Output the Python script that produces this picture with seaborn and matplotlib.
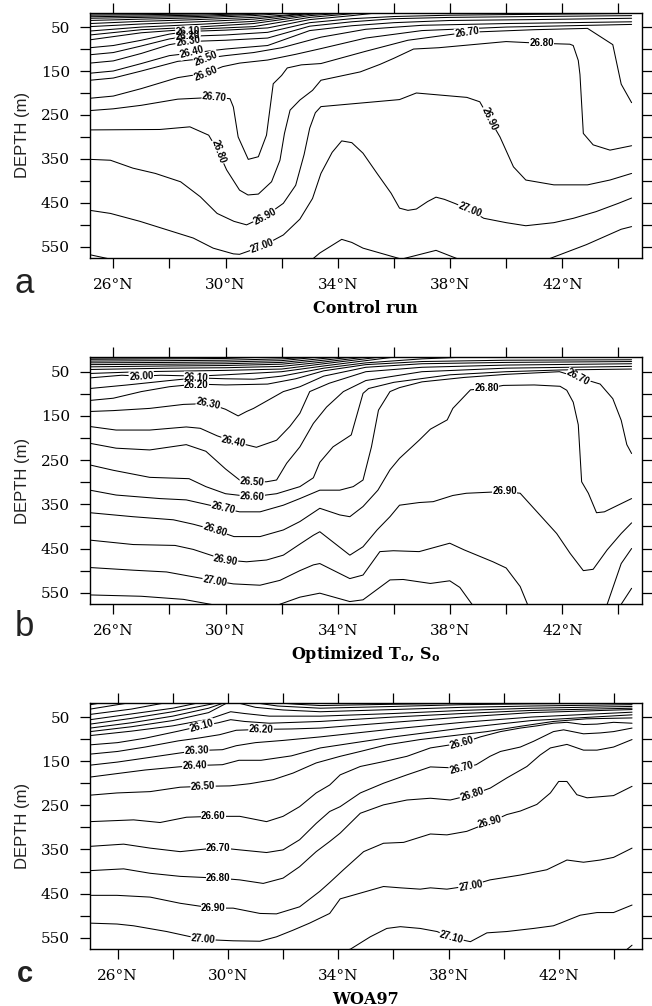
import pandas as pd
import matplotlib
matplotlib.use("Agg")
import matplotlib.pyplot as plt
import seaborn as sns

# Isopycnal depths (lat in deg N, depth in m).
# ---------------- a: Control run ----------------
a_2510 = [(25.17, 20), (27, 19.5), (28.5, 18.8), (29.5, 17)]
a_2520 = [(25.17, 23), (27, 22), (29, 20), (30.5, 17)]
a_2530 = [(25.17, 26.5), (27, 25), (29, 23), (30.5, 20), (31.5, 17)]
a_2540 = [(25.17, 30), (27, 28), (29, 26), (31, 21), (32, 17)]
a_2550 = [(25.17, 35), (27, 32), (29, 29), (31, 24), (32.5, 17)]
a_2560 = [(25.17, 42), (27, 37), (29, 33), (31, 28), (32.5, 21), (33.2, 17)]
a_2570 = [(25.17, 49), (27, 43), (29, 38), (31, 32), (33, 19), (33.5, 17)]
a_2580 = [(25.17, 59), (27, 50), (29, 44), (31, 37), (33, 21), (34, 17)]
a_2590 = [(25.17, 68), (27, 56), (29, 50), (31, 42), (33, 24), (34.5, 17)]
a_2600 = [(25.17, 79), (27, 63), (28.5, 56), (31, 49), (33, 28), (35, 17)]
a_2610 = [(25.17, 97), (26, 92), (27, 80), (28, 66), (28.66, 60), (30, 57), (31.5, 52),
          (33, 33), (34.5, 24), (35.5, 17)]
a_2620 = [(25.17, 113), (26, 108), (27, 93), (28, 77), (28.66, 71), (30, 68), (31.5, 62),
          (33, 40), (34.5, 31), (36, 26), (38, 23), (41, 21), (44.47, 19)]
a_2630 = [(25.17, 132), (26, 127), (27, 110), (28, 90), (28.66, 83), (30, 80), (31.5, 75),
          (33, 48), (34.5, 38), (36, 31), (38, 28), (41, 26), (44.47, 24)]
a_2640 = [(25.17, 155), (26, 150), (27, 133), (28, 115), (28.8, 109), (30, 100), (31.5, 92),
          (33, 58), (34.5, 47), (36, 40), (38, 35), (41, 33), (44.47, 30)]
a_2650 = [(25.17, 171), (26, 166), (27, 150), (28.3, 128), (29.3, 121), (30, 115), (31, 108),
          (32, 97), (33.4, 73), (35, 55), (37, 46), (40, 42), (44.47, 38)]
a_2660 = [(25.17, 212), (26, 207), (27, 190), (28.3, 165), (29.3, 155), (29.9, 140), (30.5, 132),
          (31.5, 125), (32.5, 112), (33.4, 99), (35, 75), (37, 58), (40, 50), (44.47, 44)]
a_2670 = [(25.17, 240), (26, 236), (27, 228), (28.3, 214), (29.6, 210), (30.16, 213), (30.28, 232),
          (30.45, 300), (30.81, 351), (31.17, 345), (31.46, 296), (31.7, 179), (32.0, 160),
          (32.2, 143), (32.7, 136), (33.4, 133), (35, 105), (36.5, 80), (38.6, 62), (41, 56),
          (42.9, 53), (43.8, 90), (44.1, 180), (44.47, 222)]
a_2680 = [(25.17, 284), (27.66, 283), (28.73, 277), (29.4, 296), (29.75, 334), (30.04, 375),
          (30.5, 421), (30.8, 432), (31.17, 430), (31.64, 402), (31.94, 353), (32.1, 292),
          (32.3, 239), (32.65, 216), (33.1, 194), (33.4, 171), (34.8, 152), (35.5, 135),
          (36.0, 121), (36.7, 100), (37.6, 97), (40.0, 83), (41.27, 87), (42.27, 89),
          (42.39, 92), (42.57, 126), (42.63, 158), (42.75, 292), (43.1, 318), (43.7, 330),
          (44.47, 320)]
a_2690 = [(25.17, 351), (25.9, 353), (26.7, 371), (27.5, 383), (28.4, 402), (29.1, 436),
          (29.7, 474), (30.3, 492), (30.75, 500), (31.4, 481), (32.06, 451), (32.5, 410),
          (32.8, 340), (33.0, 280), (33.2, 245), (33.4, 231), (36.2, 215), (36.8, 200),
          (38.6, 210), (39.06, 220), (39.4, 258), (39.78, 300), (40.26, 368), (40.7, 398),
          (41.7, 409), (42.9, 409), (43.7, 398), (44.47, 383)]
a_2700 = [(25.17, 467), (25.9, 474), (26.95, 492), (27.9, 511), (28.85, 530), (29.56, 553),
          (30.28, 566), (30.5, 567), (31.3, 549), (32.06, 523), (32.65, 487), (33.1, 440),
          (33.4, 383), (33.8, 335), (34.14, 309), (34.5, 313), (34.9, 337), (35.4, 383),
          (35.9, 428), (36.2, 462), (36.5, 467), (36.8, 464), (37.2, 447), (37.5, 437),
          (37.8, 442), (38.2, 452), (38.7, 466), (39.2, 485), (40.0, 495), (40.7, 502),
          (41.7, 495), (42.4, 485), (43.2, 470), (44.0, 451), (44.47, 439)]
a_2710 = [(25.17, 568), (25.9, 578), (27, 590), (30, 595), (33.1, 578), (33.36, 564),
          (34.14, 533), (34.5, 540), (34.9, 553), (36.27, 578), (37.5, 558), (38.3, 578),
          (40, 595), (41.5, 578), (42.86, 545), (44.1, 510), (44.47, 504)]

labels_a = [("26.10", 28.66, 59, 3), ("26.20", 28.66, 71, 5), ("26.30", 28.66, 83, 8),
            ("26.40", 28.8, 108, 14), ("26.50", 29.3, 121, 22), ("26.60", 29.3, 156, 22),
            ("26.70", 29.6, 210, -5), ("26.80", 29.75, 334, -70), ("26.90", 31.4, 481, 28),
            ("27.00", 31.3, 549, 20), ("26.70", 38.6, 62, 8), ("26.80", 41.27, 87, 0),
            ("26.90", 39.4, 258, -65), ("27.00", 38.7, 466, -22)]

# ---------------- b: Optimized To, So ----------------
b_2520 = [(25.17, 19), (28, 18.5), (30, 17)]
b_2530 = [(25.17, 22), (28, 21), (30, 20), (31.5, 17)]
b_2540 = [(25.17, 26), (28, 25), (30, 24), (32, 21), (33, 17)]
b_2550 = [(25.17, 30), (28, 29), (30, 28), (32, 25), (33.3, 17)]
b_2560 = [(25.17, 34), (28, 33), (30, 32), (32, 29), (33.5, 20), (34, 17)]
b_2570 = [(25.17, 39), (28, 37), (30, 36), (32, 33), (33.5, 24), (34.5, 17)]
b_2580 = [(25.17, 45), (28, 42), (30, 41), (32, 38), (33.5, 28), (35, 17)]
b_2590 = [(25.17, 54), (27, 50), (30, 47), (32, 44), (33.5, 32), (35.5, 17)]
b_2600 = [(25.17, 64), (26.3, 58), (27, 60), (27.7, 58), (29, 60), (30, 57), (32, 50),
          (33.5, 37), (36, 17)]
b_2610 = [(25.17, 88), (26.5, 80), (28, 70), (28.96, 64), (30, 66), (31, 67), (32, 60),
          (33.5, 42), (35, 30), (37, 21), (38.5, 17)]
b_2620 = [(25.17, 115), (26, 110), (27, 95), (28, 84), (28.96, 78), (30, 80), (31.5, 78),
          (32.5, 66), (33.5, 48), (35, 34), (37, 27), (40, 24), (44.47, 23)]
b_2630 = [(25.17, 140), (26, 138), (27.3, 133), (28.5, 124), (29.4, 122), (30, 135),
          (30.45, 150), (30.75, 140), (31, 133), (32.06, 95), (32.65, 84), (33.5, 60),
          (35, 40), (37, 32), (40, 29), (44.47, 27)]
b_2640 = [(25.17, 174), (26.1, 182), (27.3, 182), (28.6, 175), (29.1, 178), (29.7, 195),
          (30.28, 208), (31.1, 221), (31.82, 205), (32.29, 174), (32.65, 144), (33.0, 95),
          (33.7, 76), (35, 50), (37, 40), (40, 35), (44.47, 32)]
b_2650 = [(25.17, 212), (26.1, 223), (27.3, 227), (28.6, 215), (29.3, 230), (30.0, 270),
          (30.5, 295), (30.95, 299), (31.46, 299), (31.82, 295), (32.18, 257), (32.65, 220),
          (33.13, 167), (33.6, 130), (34.2, 95), (35, 70), (37, 50), (40, 42), (44.47, 38)]
b_2660 = [(25.17, 261), (26.0, 273), (27.3, 289), (28.7, 292), (29.3, 310), (30.0, 326),
          (30.95, 333), (31.82, 326), (32.65, 310), (33.13, 290), (33.36, 255), (33.83, 220),
          (34.48, 193), (34.9, 99), (35.1, 88), (36, 74), (38, 57), (40, 50), (42, 46),
          (44.47, 44)]
b_2670 = [(25.17, 318), (26.1, 329), (27.66, 337), (28.6, 340), (29.3, 350), (29.92, 359),
          (30.5, 367), (31.23, 367), (32.06, 352), (32.65, 337), (33.36, 318), (34.07, 318),
          (34.55, 310), (34.9, 295), (35.2, 220), (35.45, 137), (35.86, 95), (36.2, 86),
          (37, 73), (38.5, 63), (40, 56), (41.9, 50), (42.57, 63), (43.35, 78), (43.8, 111),
          (44.1, 160), (44.3, 215), (44.47, 235)]
b_2680 = [(25.17, 369), (26.7, 378), (28.14, 385), (28.85, 395), (29.62, 408), (30.3, 423),
          (31.23, 423), (32.06, 408), (32.65, 389), (33.36, 359), (34.07, 374), (34.43, 378),
          (34.9, 355), (35.43, 318), (35.86, 272), (36.2, 246), (36.9, 205), (37.3, 180),
          (37.9, 159), (38.1, 133), (38.73, 91), (39.3, 88), (39.9, 81), (41.0, 80),
          (41.92, 83), (42.16, 92), (42.39, 119), (42.57, 170), (42.69, 299), (42.93, 325),
          (43.22, 369), (43.5, 367), (44.47, 337)]
b_2690 = [(25.17, 431), (26.71, 441), (28.2, 443), (28.85, 452), (30.0, 476), (30.75, 480),
          (31.46, 476), (32.06, 465), (32.65, 440), (33.13, 420), (33.36, 412), (34.43, 465),
          (34.9, 446), (35.4, 408), (35.86, 378), (36.2, 352), (36.9, 346), (37.4, 344),
          (38.1, 330), (38.58, 325), (39.95, 321), (40.5, 325), (41.2, 374), (41.8, 416),
          (42.28, 461), (42.75, 500), (43.1, 497), (43.6, 453), (44.1, 416), (44.47, 392)]
b_2700 = [(25.17, 493), (26.71, 499), (27.9, 503), (28.85, 514), (29.62, 523), (30.28, 530),
          (31.23, 533), (31.94, 522), (32.65, 500), (33.13, 487), (33.36, 484), (34.43, 518),
          (34.9, 510), (35.5, 457), (35.98, 455), (36.9, 457), (37.99, 438), (38.5, 453),
          (39.53, 480), (40.0, 494), (40.5, 536), (40.85, 590), (43.5, 590), (43.6, 576),
          (44.1, 484), (44.47, 450)]
b_2710 = [(25.17, 555), (27, 558), (28.5, 565), (29.8, 580), (31.5, 590), (31.94, 576),
          (32.65, 560), (33.36, 551), (34.43, 570), (34.9, 566), (35.86, 521), (36.33, 520),
          (37.3, 529), (37.99, 523), (38.35, 538), (38.94, 590), (43.8, 595), (44.1, 576),
          (44.47, 540)]

labels_b = [("26.00", 27.0, 60, 3), ("26.10", 28.96, 63, -3), ("26.20", 28.96, 79, 0),
            ("26.30", 29.4, 122, -12), ("26.40", 30.28, 208, -12), ("26.50", 30.95, 299, -4),
            ("26.60", 30.95, 333, -3), ("26.70", 29.92, 359, -13), ("26.80", 29.62, 408, -18),
            ("26.90", 30.0, 476, -10), ("27.00", 29.62, 523, -10), ("26.80", 39.3, 88, 0),
            ("26.90", 39.95, 321, 0), ("26.70", 42.57, 63, -28)]

# ---------------- c: WOA97 ----------------
c_2530 = [(25.01, 22), (25.5, 17)]
c_2540 = [(25.01, 32), (26, 22), (26.5, 17)]
c_2550 = [(25.01, 44), (26.5, 32), (27.8, 17)]
c_2560 = [(25.01, 56), (26.5, 43), (28, 30), (29, 17)]
c_2560r = [(32.5, 17), (33.35, 19), (36, 18), (38, 16)]
c_2570 = [(25.01, 66), (26.5, 53), (28, 38), (29.3, 22), (29.7, 17)]
c_2570r = [(31.6, 17), (32.5, 21), (33.35, 24), (36, 21), (38.5, 19), (42, 17)]
c_2580 = [(25.01, 75), (26.5, 63), (28, 48), (29.3, 30), (29.9, 17)]
c_2580r = [(30.9, 17), (31.8, 25), (33.35, 30), (36, 26), (38.5, 22), (41, 20), (44.65, 19)]
c_2590 = [(25.01, 83), (26.5, 72), (28, 58), (29.3, 40), (30.0, 17)]
c_2590r = [(30.3, 17), (31, 28), (32, 34), (33.35, 38), (36, 33), (38.5, 28), (41, 25),
           (44.65, 22)]
c_2600 = [(25.01, 92), (26.5, 82), (28, 70), (29.3, 55), (30.1, 38), (30.6, 42), (31.5, 48),
          (33.35, 48), (36, 42), (38.5, 35), (41, 30), (44.65, 26)]
c_2610 = [(25.01, 113), (26, 108), (27, 98), (28.2, 82), (29.05, 70), (29.65, 63), (30.1, 56),
          (30.6, 60), (31.5, 64), (33.35, 60), (36, 50), (38.5, 42), (41, 35), (44.65, 30)]
c_2620 = [(25.01, 134), (26, 128), (27, 118), (28.2, 104), (28.9, 98), (29.7, 90), (30.3, 80),
          (31.2, 78), (32.3, 77), (33.35, 75), (36, 62), (38.5, 50), (41, 40), (44.65, 33)]
c_2630 = [(25.01, 159), (26, 152), (27, 143), (28.2, 132), (28.87, 126), (29.8, 124),
          (30.3, 115), (31, 108), (32, 103), (33.35, 95), (36, 77), (38.5, 62), (41, 50),
          (44.65, 39)]
c_2640 = [(25.01, 186), (26, 178), (27, 170), (28.2, 163), (28.8, 160), (29.8, 158),
          (30.4, 148), (31.2, 148), (32.3, 138), (33.35, 120), (36, 95), (38.5, 75), (41, 58),
          (44.65, 45)]
c_2650 = [(25.01, 227), (25.98, 222), (27.18, 219), (28.27, 209), (29.1, 207), (30.07, 206),
          (30.8, 201), (31.64, 192), (32.36, 177), (33.2, 154), (34.07, 139), (34.8, 128),
          (35.76, 113), (36.97, 101), (38.18, 92), (39.39, 83), (40.6, 71), (41.8, 60),
          (43, 54), (44.65, 52)]
c_2660 = [(25.01, 287), (26.58, 283), (27.54, 289), (28.5, 277), (29.47, 275), (30.43, 275),
          (31.4, 287), (32.0, 275), (32.6, 253), (33.2, 222), (33.69, 204), (34.07, 181),
          (34.8, 162), (35.64, 151), (36.49, 139), (37.34, 120), (38.48, 109), (39.15, 95),
          (39.88, 83), (40.6, 75), (41.2, 70), (41.8, 64), (42.29, 62), (42.89, 67),
          (43.38, 66), (43.98, 62), (44.65, 64)]
c_2670 = [(25.01, 343), (26.22, 338), (27.18, 347), (28.27, 355), (29.65, 346), (30.43, 351),
          (31.4, 357), (32.0, 351), (32.6, 328), (33.2, 291), (33.69, 264), (34.07, 253),
          (34.8, 222), (35.64, 200), (36.49, 181), (37.34, 163), (38.48, 166), (39.0, 158),
          (39.5, 139), (39.88, 128), (40.6, 118), (41.08, 105), (41.8, 83), (42.17, 79),
          (42.89, 88), (43.5, 86), (43.98, 83), (44.65, 75)]
c_2680 = [(25.01, 398), (26.22, 394), (27.18, 404), (28.27, 411), (29.65, 415), (30.43, 419),
          (31.28, 427), (32.0, 415), (32.6, 389), (33.2, 355), (33.69, 332), (34.07, 313),
          (34.8, 268), (35.64, 249), (36.49, 238), (37.34, 234), (38.06, 238), (38.85, 226),
          (39.51, 211), (40.11, 188), (40.84, 162), (41.32, 136), (41.69, 120), (42.29, 112),
          (42.89, 125), (43.38, 125), (43.98, 118), (44.65, 101)]
c_2690 = [(25.01, 454), (25.98, 454), (27.18, 458), (28.27, 472), (29.47, 483), (30.19, 483),
          (31.16, 495), (31.76, 496), (32.6, 480), (33.33, 445), (33.69, 425), (34.19, 396),
          (34.92, 355), (35.64, 336), (36.37, 334), (37.34, 315), (37.94, 317), (38.66, 309),
          (39.51, 288), (40.11, 271), (40.6, 263), (41.2, 248), (41.69, 222), (41.99, 196),
          (42.29, 196), (42.65, 226), (43.02, 233), (43.98, 228), (44.65, 207)]
c_2700 = [(25.01, 517), (25.98, 519), (26.58, 523), (27.78, 536), (29.1, 554), (30.19, 557),
          (31.16, 558), (31.76, 548), (32.36, 533), (32.96, 517), (33.69, 495), (34.07, 462),
          (34.8, 449), (35.64, 434), (36.25, 437), (36.97, 440), (37.34, 437), (37.94, 440),
          (38.79, 432), (39.5, 419), (40.6, 408), (41.56, 396), (42.29, 374), (42.89, 379),
          (43.5, 374), (43.98, 368), (44.65, 347)]
c_2710 = [(33.5, 590), (34.44, 576), (35.16, 548), (35.76, 529), (36.25, 525), (36.97, 529),
          (37.58, 536), (38.12, 550), (38.79, 559), (39.39, 539), (40.11, 536), (41.08, 529),
          (41.8, 523), (42.05, 517), (42.77, 499), (43.38, 493), (43.98, 493), (44.65, 476)]
c_2720 = [(44.3, 585), (44.65, 567)]

labels_c = [("26.10", 29.05, 70, 15), ("26.20", 31.2, 78, -2), ("26.30", 28.87, 126, 2),
            ("26.40", 28.8, 160, 2), ("26.50", 29.1, 207, 3), ("26.60", 29.47, 275, 0),
            ("26.70", 29.65, 346, 0), ("26.80", 29.65, 415, 0), ("26.90", 29.47, 483, 0),
            ("27.00", 29.1, 554, -5), ("26.60", 38.48, 109, 15), ("26.70", 38.48, 166, 15),
            ("26.80", 38.85, 226, 18), ("26.90", 39.5, 288, 15), ("27.00", 38.8, 432, 10),
            ("27.10", 38.1, 550, -15)]

panel_a = [a_2510, a_2520, a_2530, a_2540, a_2550, a_2560, a_2570, a_2580, a_2590, a_2600,
           a_2610, a_2620, a_2630, a_2640, a_2650, a_2660, a_2670, a_2680, a_2690, a_2700,
           a_2710]
panel_b = [b_2520, b_2530, b_2540, b_2550, b_2560, b_2570, b_2580, b_2590, b_2600, b_2610,
           b_2620, b_2630, b_2640, b_2650, b_2660, b_2670, b_2680, b_2690, b_2700, b_2710]
panel_c = [c_2530, c_2540, c_2550, c_2560, c_2560r, c_2570, c_2570r, c_2580, c_2580r,
           c_2590, c_2590r, c_2600, c_2610, c_2620, c_2630, c_2640, c_2650, c_2660, c_2670,
           c_2680, c_2690, c_2700, c_2710, c_2720]

lat_ticks = [26, 28, 30, 32, 34, 36, 38, 40, 42, 44]
lat_ticklabels = ["26°N", "", "30°N", "", "34°N", "", "38°N", "", "42°N", ""]
depth_ticks = [50, 100, 150, 200, 250, 300, 350, 400, 450, 500, 550]
depth_ticklabels = ["50", "", "150", "", "250", "", "350", "", "450", "", "550"]

sns.set_style("ticks")
plt.rcParams["font.family"] = ["DejaVu Serif"]
plt.rcParams["mathtext.fontset"] = "dejavuserif"
plt.rcParams.update({"text.color": "black", "axes.labelcolor": "black",
                     "xtick.color": "black", "ytick.color": "black",
                     "axes.edgecolor": "black"})

SANS = ["Liberation Sans", "DejaVu Sans"]


def draw_panel(ax, lines, labels, xlim, title, letter, letter_y, letter_size, letter_weight):
    rows = []
    for i, pts in enumerate(lines):
        for lat, dep in pts:
            rows.append((i, lat, dep))
    df = pd.DataFrame(rows, columns=["seg", "lat", "depth"])
    sns.lineplot(data=df, x="lat", y="depth", units="seg", estimator=None, sort=False,
                 color="black", linewidth=0.75, ax=ax, legend=False)
    lab_kw = dict(ha="center", va="center", fontsize=7, fontweight="bold", family=SANS,
                  rotation_mode="anchor")
    for txt, lat, dep, rot in labels:
        # white gap in the line, then the label text on top of every gap
        ax.text(lat, dep, txt, rotation=rot, color="none", zorder=3,
                bbox=dict(fc="white", ec="none", pad=0.3), **lab_kw)
    for txt, lat, dep, rot in labels:
        ax.text(lat, dep, txt, rotation=rot, color="black", zorder=4, **lab_kw)
    ax.set_xlim(*xlim)
    ax.set_ylim(575.5, 17.5)
    ax.set_xticks(lat_ticks)
    ax.set_xticklabels(lat_ticklabels)
    ax.set_yticks(depth_ticks)
    ax.set_yticklabels(depth_ticklabels)
    ax.tick_params(direction="out", length=7, width=0.9, top=True, right=True,
                   labeltop=False, labelright=False, pad=7.5, labelsize=11)
    for sp in ax.spines.values():
        sp.set_linewidth(1.0)
        sp.set_visible(True)
    ax.set_xlabel("")
    ax.set_ylabel("")
    ax.text(-0.1225, 0.5, "DEPTH (m)", transform=ax.transAxes, rotation=90,
            ha="center", va="center", fontsize=12, family=SANS, color="#222222")
    ax.text(0.5, -0.205, title, transform=ax.transAxes, ha="center", va="center",
            fontsize=11.5, fontweight="bold")
    fig.text(24.5 / 652, 1 - letter_y / 1006, letter, ha="center", va="baseline",
             fontsize=letter_size, fontweight=letter_weight, family=SANS, color="#222222")


fig = plt.figure(figsize=(6.52, 10.06), dpi=100)
ax_a = fig.add_axes([0.1380, 0.7435, 0.8462, 0.2438])
ax_b = fig.add_axes([0.1380, 0.3996, 0.8462, 0.2452])
ax_c = fig.add_axes([0.1380, 0.0567, 0.8462, 0.2448])

draw_panel(ax_a, panel_a, labels_a, (25.17, 44.83), "Control run", "a", 293, 25, "normal")
draw_panel(ax_b, panel_b, labels_b, (25.17, 44.83),
           r"Optimized $\mathbf{T_o}$, $\mathbf{S_o}$", "b", 636, 25, "normal")
draw_panel(ax_c, panel_c, labels_c, (25.0, 45.0), "WOA97", "c", 981.7, 21, "bold")

fig.savefig("out.png", dpi=100)
